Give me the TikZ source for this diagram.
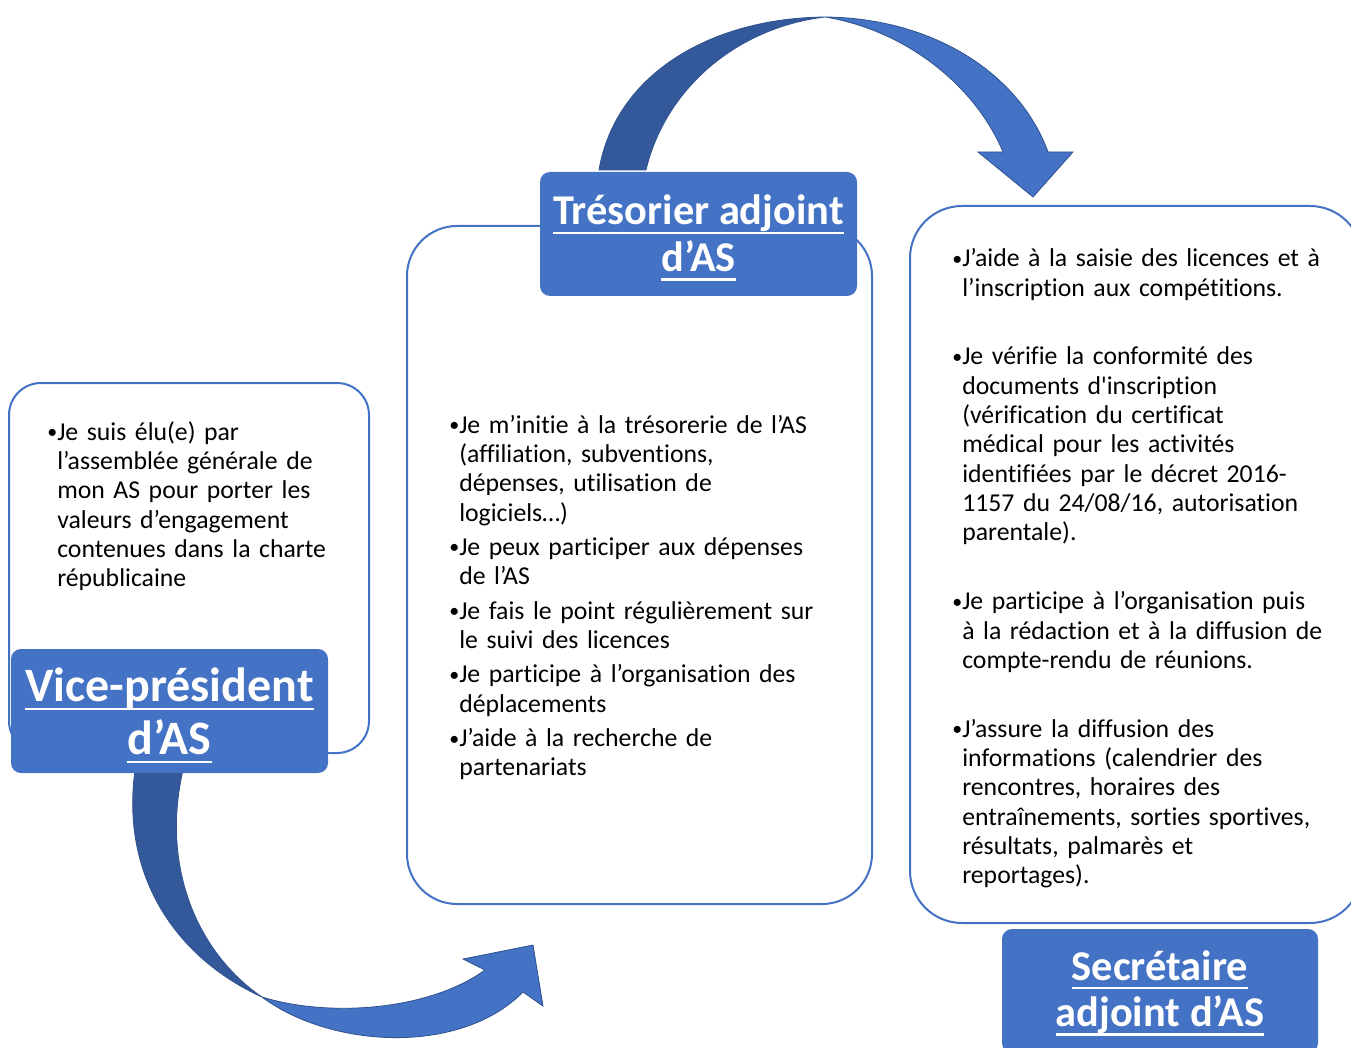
\documentclass[tikz,border=0pt]{standalone}
\usepackage{fontspec}
\setmainfont{Carlito}[Ligatures={TeX,NoCommon}]
\definecolor{bleu}{HTML}{4472C4}
\definecolor{bleufonce}{HTML}{34599A}
\definecolor{contour}{HTML}{2F528F}
\newsavebox{\boitesl}
\newcommand{\souligne}[1]{\sbox{\boitesl}{#1}%
  \rlap{\rule[-6.8pt]{\wd\boitesl}{1.7pt}}\usebox{\boitesl}}
\newcommand{\deuxlignes}[3]{\rule{0pt}{#1}\smash{\souligne{#2}}\\\smash{\souligne{#3}}}
\newlength{\largpuce}
\setlength{\largpuce}{7.5pt}
\newcommand{\puce}[1]{\noindent\hangindent=\largpuce\hangafter=1
  \makebox[\largpuce][l]{\raisebox{1.2pt}{\fontsize{15}{15}\selectfont•}}#1\par}
\tikzset{
  cadre/.style    = {draw=bleu, line width=1.5pt, rounded corners=#1,
                     anchor=north west, inner sep=0pt, outer sep=0pt},
  titre/.style    = {fill=bleu, rounded corners=7.5pt, anchor=north west,
                     minimum width=237.75pt, minimum height=93pt,
                     inner sep=0pt, outer sep=0pt, text=white, align=center},
  texte/.style    = {anchor=base west, inner sep=0pt, text width=#1,
                     font=\fontsize{19.3}{22}\selectfont},
  flclaire/.style = {fill=bleu, draw=contour, line width=0.6pt},
  flfoncee/.style = {fill=bleufonce, draw=contour, line width=0.6pt},
}

\begin{document}
\begin{tikzpicture}[x=0.75pt, y=-0.75pt]
  \useasboundingbox (0,0) rectangle (1351,1048);
  \node[cadre=24pt, minimum width=270pt, minimum height=277.5pt] (cadreVP) at (9,383) {};
  \node[cadre=37.5pt, minimum width=348.75pt, minimum height=508.5pt] (cadreTres) at (407,226) {};
  \node[cadre=39pt, minimum width=339pt, minimum height=537.75pt] (cadreSec) at (910,206) {};

  \path[flclaire] (825,17) .. controls (935,18) and (1020,75) .. (1048,152)
    -- (1073,152) -- (1033,197) -- (978,152) -- (1003,152)
    .. controls (975,85) and (905,30) .. (825,17) -- cycle;
  \path[flfoncee] (599,170) .. controls (615,75) and (710,18) .. (825,17)
    .. controls (735,28) and (665,90) .. (646,170) -- cycle;

  \path[flfoncee] (135,770) .. controls (120,880) and (180,960) .. (262,997)
    .. controls (200,955) and (160,870) .. (183,770) -- cycle;
  \path[flclaire] (262,997) .. controls (330,1048) and (460,1056) .. (523,992)
    -- (543,1006) -- (533,945) -- (463,959) -- (485,970)
    .. controls (430,1010) and (330,1018) .. (262,997) -- cycle;

  \node[titre, font=\bfseries\fontsize{36}{40}\selectfont] (titreVP) at (11,649)
    {\deuxlignes{25pt}{Vice-président}{d’AS}};
  \node[titre, font=\bfseries\fontsize{31.8}{35}\selectfont] (titreTres) at (540,172)
    {\deuxlignes{21.5pt}{Trésorier adjoint}{d’AS}};
  \node[titre, minimum width=237pt, font=\bfseries\fontsize{31.8}{35}\selectfont] (titreSec) at (1002,929)
    {\deuxlignes{18.5pt}{Secrétaire}{adjoint d’AS}};

  \node[texte=240pt] (texteVP) at (47,440) {%
    \puce{Je suis élu(e) par\newline l’assemblée générale de\newline mon AS pour porter les\newline
      valeurs d’engagement\newline contenues dans la charte\newline républicaine}};
  \node[texte=300pt] (texteTres) at (449,433) {%
    \setlength{\parskip}{3.8pt}%
    \puce{Je m’initie à la trésorerie de l’AS\newline (affiliation, subventions,\newline
      dépenses, utilisation de\newline logiciels…)}
    \puce{Je peux participer aux dépenses\newline de l’AS}
    \puce{Je fais le point régulièrement sur\newline le suivi des licences}
    \puce{Je participe à l’organisation des\newline déplacements}
    \puce{J’aide à la recherche de\newline partenariats}};
  \node[texte=300pt] (texteSec) at (952,267) {%
    \setlength{\parskip}{29.5pt}%
    \puce{J’aide à la saisie des licences et à\newline l’inscription aux compétitions.}
    \puce{Je vérifie la conformité des\newline documents d\textquotesingle inscription\newline
      (vérification du certificat\newline médical pour les activités\newline
      identifiées par le décret 2016-\newline 1157 du 24/08/16, autorisation\newline parentale).}
    \puce{Je participe à l’organisation puis\newline à la rédaction et à la diffusion de\newline
      compte-rendu de réunions.}
    \puce{J’assure la diffusion des\newline informations (calendrier des\newline
      rencontres, horaires des\newline entraînements, sorties sportives,\newline
      résultats, palmarès et\newline reportages).}};
\end{tikzpicture}
\end{document}
